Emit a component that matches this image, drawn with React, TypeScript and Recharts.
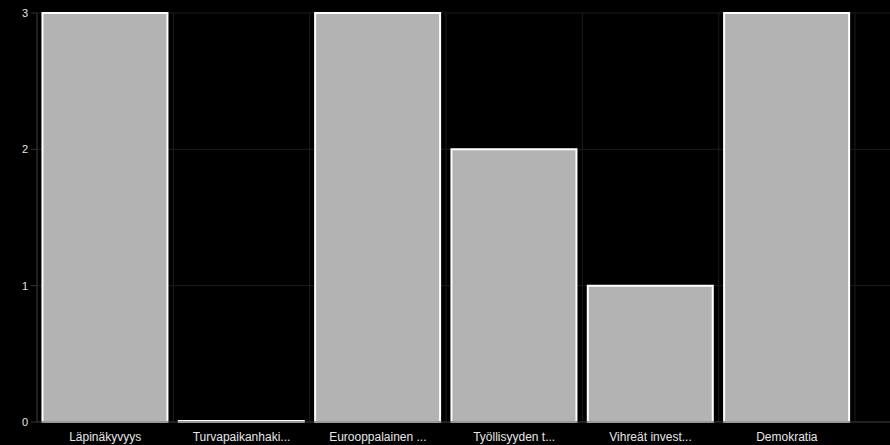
import React from "react";
import { BarChart, Bar, XAxis, YAxis, CartesianGrid } from "recharts";

const categories = [
  "Läpinäkyvyys",
  "Turvapaikanhaki...",
  "Eurooppalainen ...",
  "Työllisyyden t...",
  "Vihreät invest...",
  "Demokratia",
];
const values = [3, 0, 3, 2, 1, 3];
const yTicks = [0, 1, 2, 3];

const data = categories.map((name, i) => ({ name, value: values[i] }));

const RIGHT_PAD = 35;

export default function App() {
  return (
    <div style={{ position: "fixed", left: 0, top: 0, width: 890, height: 445, background: "#000", overflow: "hidden" }}>
      <BarChart
        width={890}
        height={445}
        data={data}
        margin={{ top: 13, right: 0, bottom: 0, left: 0 }}
        barCategoryGap="4%"
      >
        <CartesianGrid
          stroke="#1c1c1c"
          strokeWidth={1}
          verticalCoordinatesGenerator={({ offset }: any) => {
            const w = (offset.width - RIGHT_PAD) / categories.length;
            return categories.map((_, i) => offset.left + i * w).concat([offset.left + categories.length * w]);
          }}
        />
        <XAxis
          dataKey="name"
          interval={0}
          padding={{ left: 0, right: RIGHT_PAD }}
          tick={{ fill: "#e6e6e6", fontSize: 12, fontFamily: "Liberation Sans, Arial, sans-serif" }}
          axisLine={{ stroke: "#333" }}
          tickLine={false}
          height={23}
          tickMargin={4}
        />
        <YAxis
          domain={[0, 3]}
          ticks={yTicks}
          width={37}
          tick={{ fill: "#e6e6e6", fontSize: 11, fontFamily: "Liberation Sans, Arial, sans-serif" }}
          axisLine={{ stroke: "#333" }}
          tickLine={{ stroke: "#333" }}
          tickSize={6}
          tickMargin={3}
        />
        <Bar
          dataKey="value"
          fill="#b3b3b3"
          stroke="#ffffff"
          strokeWidth={2}
          minPointSize={1}
          isAnimationActive={false}
        />
      </BarChart>
    </div>
  );
}
